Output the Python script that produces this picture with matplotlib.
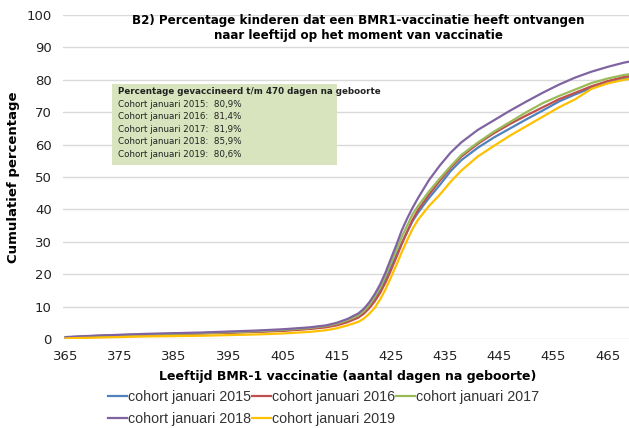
import matplotlib
matplotlib.use("Agg")
import matplotlib.pyplot as plt
from matplotlib.patches import Rectangle

days = [365, 370, 375, 380, 385, 390, 395, 400, 405, 410, 413, 415, 417, 419, 420,
        421, 422, 423, 424, 425, 426, 427, 428, 429, 430, 432, 434, 436, 438, 441,
        444, 447, 450, 453, 456, 459, 462, 465, 468, 470]

cohort_2015 = [0.5, 0.9, 1.2, 1.4, 1.6, 1.8, 2.0, 2.3, 2.6, 3.2, 3.8, 4.5, 5.5, 7.0, 8.2,
               10.0, 12.3, 15.0, 18.3, 22.0, 25.8, 29.6, 33.0, 36.4, 39.0, 43.5, 47.5, 51.8, 55.2, 59.0,
               62.2, 65.0, 67.8, 70.5, 73.3, 75.5, 77.5, 79.0, 80.3, 80.9]
cohort_2016 = [0.4, 0.8, 1.1, 1.3, 1.5, 1.7, 1.9, 2.2, 2.5, 3.1, 3.6, 4.2, 5.2, 6.6, 7.8,
               9.5, 11.6, 14.2, 17.4, 21.2, 25.2, 29.3, 33.2, 36.8, 39.8, 44.5, 48.8, 52.8, 56.3, 60.2,
               63.5, 66.4, 69.0, 71.5, 74.0, 76.0, 78.0, 79.6, 80.9, 81.4]
cohort_2017 = [0.5, 0.9, 1.2, 1.4, 1.6, 1.8, 2.1, 2.4, 2.8, 3.4, 4.0, 4.7, 5.8, 7.3, 8.6,
               10.5, 13.0, 15.8, 19.5, 23.5, 27.5, 31.5, 35.0, 38.5, 41.0, 45.5, 49.5, 53.3, 56.8, 60.6,
               64.0, 67.0, 70.0, 72.8, 75.0, 77.0, 79.0, 80.4, 81.5, 81.9]
cohort_2018 = [0.6, 1.0, 1.3, 1.6, 1.8, 2.0, 2.3, 2.6, 3.0, 3.6, 4.2, 5.0, 6.2, 7.9, 9.3,
               11.3, 13.8, 16.8, 20.5, 24.8, 29.0, 33.5, 37.2, 40.5, 43.5, 49.0, 53.5, 57.5, 60.7, 64.5,
               67.5, 70.5, 73.3, 76.0, 78.5, 80.7, 82.5, 84.0, 85.3, 85.9]
cohort_2019 = [0.2, 0.4, 0.6, 0.8, 0.9, 1.0, 1.2, 1.4, 1.7, 2.2, 2.7, 3.3, 4.2, 5.3, 6.3,
               7.8, 9.6, 12.2, 15.3, 19.0, 22.8, 26.8, 30.5, 34.0, 36.8, 41.0, 44.5, 48.5, 52.0, 56.3,
               59.6, 62.8, 65.7, 68.6, 71.5, 74.0, 77.2, 78.9, 80.0, 80.6]

series_labels = ["cohort januari 2015", "cohort januari 2016", "cohort januari 2017",
                 "cohort januari 2018", "cohort januari 2019"]
series_colors = ["#4F81BD", "#C0504D", "#9BBB59", "#8064A2", "#FFC000"]
x_ticks = [365, 375, 385, 395, 405, 415, 425, 435, 445, 455, 465]
y_ticks = [0, 10, 20, 30, 40, 50, 60, 70, 80, 90, 100]

box_title = "Percentage gevaccineerd t/m 470 dagen na geboorte"
box_lines = ["Cohort januari 2015:  80,9%", "Cohort januari 2016:  81,4%",
             "Cohort januari 2017:  81,9%", "Cohort januari 2018:  85,9%",
             "Cohort januari 2019:  80,6%"]

W, H = 629, 428
fig = plt.figure(figsize=(W / 100, H / 100), dpi=100)
left_px, right_px, top_px, bot_px = 63, 629, 15, 339
ax = fig.add_axes([left_px / W, 1 - bot_px / H, (right_px - left_px) / W, (bot_px - top_px) / H])

all_series = [cohort_2015, cohort_2016, cohort_2017, cohort_2018, cohort_2019]
for vals, lab, col in zip(all_series, series_labels, series_colors):
    ax.plot(days, vals, color=col, lw=1.6, label=lab, solid_joinstyle="round")

px_per_day = 5.42
x0 = 364.5
ax.set_xlim(x0, x0 + (right_px - left_px) / px_per_day)
ax.set_ylim(0, 100)
ax.set_xticks(x_ticks)
ax.set_yticks(y_ticks)
ax.tick_params(axis="both", length=0, labelsize=9.5, colors="#222222")
ax.tick_params(axis="x", pad=8)
ax.tick_params(axis="y", pad=8)
ax.grid(axis="y", color="#D9D9D9", lw=1)
ax.set_axisbelow(True)
for s in ax.spines.values():
    s.set_visible(False)

ax.set_ylabel("Cumulatief percentage", fontsize=9.5, fontweight="bold")
ax.yaxis.set_label_coords((20 - left_px) / (right_px - left_px), 0.5)
ax.set_xlabel("Leeftijd BMR-1 vaccinatie (aantal dagen na geboorte)", fontsize=9,
              fontweight="bold")
ax.xaxis.set_label_coords((348 - left_px) / (right_px - left_px), -(370 - bot_px) / (bot_px - top_px))

fig.text(358 / W, 1 - 28 / H,
         "B2) Percentage kinderen dat een BMR1-vaccinatie heeft ontvangen\nnaar leeftijd op het moment van vaccinatie",
         ha="center", va="center", fontsize=8.6, fontweight="bold", linespacing=1.25)

# text box
bx0, bx1, by0, by1 = 112, 337, 84, 165
fig.patches.append(Rectangle((bx0 / W, 1 - by1 / H), (bx1 - bx0) / W, (by1 - by0) / H,
                             transform=fig.transFigure, facecolor="#D7E4BD", edgecolor="none",
                             zorder=5))
fig.text(118 / W, 1 - 92 / H, box_title, fontsize=6.3, fontweight="bold", va="center", ha="left",
         zorder=6, color="#222222")
for i, line in enumerate(box_lines):
    fig.text(118 / W, 1 - (104.5 + 12.4 * i) / H, line, fontsize=6.3, va="center", ha="left",
             zorder=6, color="#222222")

handles, labels = ax.get_legend_handles_labels()
order = [0, 3, 1, 4, 2]
leg = fig.legend([handles[i] for i in order], [labels[i] for i in order], ncol=3,
                 loc="center left", bbox_to_anchor=(108 / W, 1 - 408 / H), frameon=False,
                 handlelength=1.35, handletextpad=0.05, columnspacing=0.05,
                 borderaxespad=0, borderpad=0, labelspacing=0.5,
                 prop={"family": "Liberation Sans", "size": 10.3})
for t in leg.get_texts():
    t.set_color("#333333")

fig.savefig("out.png", dpi=100)
